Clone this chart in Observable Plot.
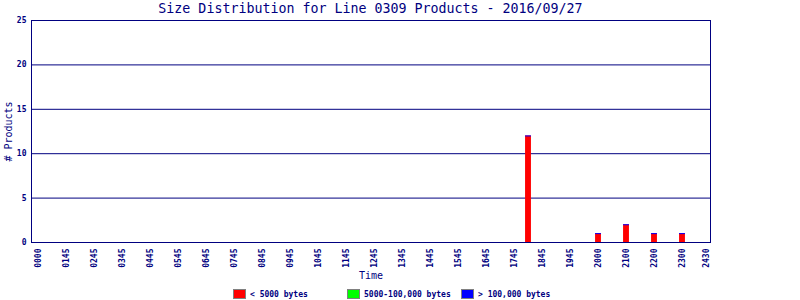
<!DOCTYPE html>
<html>
<head>
<meta charset="utf-8">
<script src="https://cdn.jsdelivr.net/npm/d3@7"></script>
<script src="https://cdn.jsdelivr.net/npm/@observablehq/plot@0.6"></script>
<style>
  body { margin: 0; background: #fff; width: 800px; height: 300px; overflow: hidden; position: relative; font-family: "DejaVu Sans Mono", monospace; color: #000080; }
  #title { position: absolute; left: 31px; top: 0; width: 679px; height: 16px; line-height: 17px; text-align: center; font-size: 13.3px; }
  #chart { position: absolute; left: 0; top: 16px; }
  .leg { position: absolute; top: 288px; height: 12px; display: flex; align-items: center; font-size: 8px; font-weight: bold; white-space: nowrap; }
  .sw { width: 11px; height: 8px; border: 1px solid #808080; margin-right: 4px; }
</style>
</head>
<body>
<div id="title"></div>
<div id="chart"></div>
<div id="legend"></div>
<script>
// ---- data ----
const titleText = "Size Distribution for Line 0309 Products - 2016/09/27";
// x-axis tick labels and their slot positions (slot units)
const tickLabels = ["0000","0145","0245","0345","0445","0545","0645","0745","0845","0945","1045","1145","1245","1345","1445","1545","1645","1745","1845","1945","2000","2100","2200","2300","2430"];
const tickSlots  = [0,1,2,3,4,5,6,7,8,9,10,11,12,13,14,15,16,17,18,19,20,21,22,23,23.85];
// bars: slot position of each bar
const barSlots = [17.5, 20, 21, 22, 23];
// series values
const smallCounts  = [12, 1, 2, 1, 1];   // < 5000 bytes
const mediumCounts = [0, 0, 0, 0, 0];    // 5000-100,000 bytes
const largeCounts  = [0, 0, 0, 0, 0];    // > 100,000 bytes
const seriesNames  = ["< 5000 bytes", "5000-100,000 bytes", "> 100,000 bytes"];
const seriesColors = ["#ff0000", "#00ff00", "#0000ff"];
const yTicks = [0, 5, 10, 15, 20, 25];

// ---- build ----
const navy = "#000080";
const halfW = 0.105;
const rows = [];
const caps = [];
barSlots.forEach((s, i) => {
  const vals = [smallCounts[i], mediumCounts[i], largeCounts[i]];
  let acc = 0;
  vals.forEach((v, k) => {
    if (v > 0) rows.push({x1: s - halfW, x2: s + halfW, y1: acc, y2: acc + v, series: seriesNames[k]});
    acc += v;
  });
  caps.push({x1: s - halfW, x2: s + halfW, y: acc});
});
const labelMap = new Map(tickSlots.map((s, i) => [s, tickLabels[i]]));

document.getElementById("title").textContent = titleText;

const plot = Plot.plot({
  width: 800,
  height: 264,
  marginTop: 4,
  marginBottom: 38,
  marginLeft: 31,
  marginRight: 90,
  style: {fontFamily: "DejaVu Sans Mono, monospace", fontSize: "8px", color: navy, background: "white"},
  x: {type: "linear", domain: [-0.25, 24]},
  y: {domain: [0, 25]},
  color: {domain: seriesNames, range: seriesColors},
  marks: [
    Plot.gridY([5, 10, 15, 20], {stroke: navy, strokeOpacity: 1}),
    Plot.rectY(rows, {x1: "x1", x2: "x2", y1: "y1", y2: "y2", fill: "series"}),
    Plot.ruleY(caps, {x1: "x1", x2: "x2", y: "y", stroke: seriesColors[2], strokeWidth: 1}),
    Plot.frame({stroke: navy}),
    Plot.axisY(yTicks, {tickSize: 0, tickPadding: 5, label: null, fill: navy, fontWeight: "bold"}),
    Plot.axisX(tickSlots, {tickSize: 0, tickPadding: 6, tickRotate: -90, label: null, fill: navy, fontWeight: "bold", tickFormat: d => labelMap.get(d)}),
    Plot.text(["Time"], {frameAnchor: "bottom", dy: 36, fill: navy, fontSize: 10}),
    Plot.text(["# Products"], {frameAnchor: "left", textAnchor: "middle", dx: -23, rotate: -90, fill: navy, fontSize: 10})
  ]
});
document.getElementById("chart").appendChild(plot);

// legend
const legendLeft = [233, 347, 461];
const legend = document.getElementById("legend");
seriesNames.forEach((name, k) => {
  const item = document.createElement("div");
  item.className = "leg";
  item.style.left = legendLeft[k] + "px";
  const sw = document.createElement("div");
  sw.className = "sw";
  sw.style.background = seriesColors[k];
  const t = document.createElement("span");
  t.textContent = name;
  item.appendChild(sw);
  item.appendChild(t);
  legend.appendChild(item);
});
</script>
</body>
</html>
